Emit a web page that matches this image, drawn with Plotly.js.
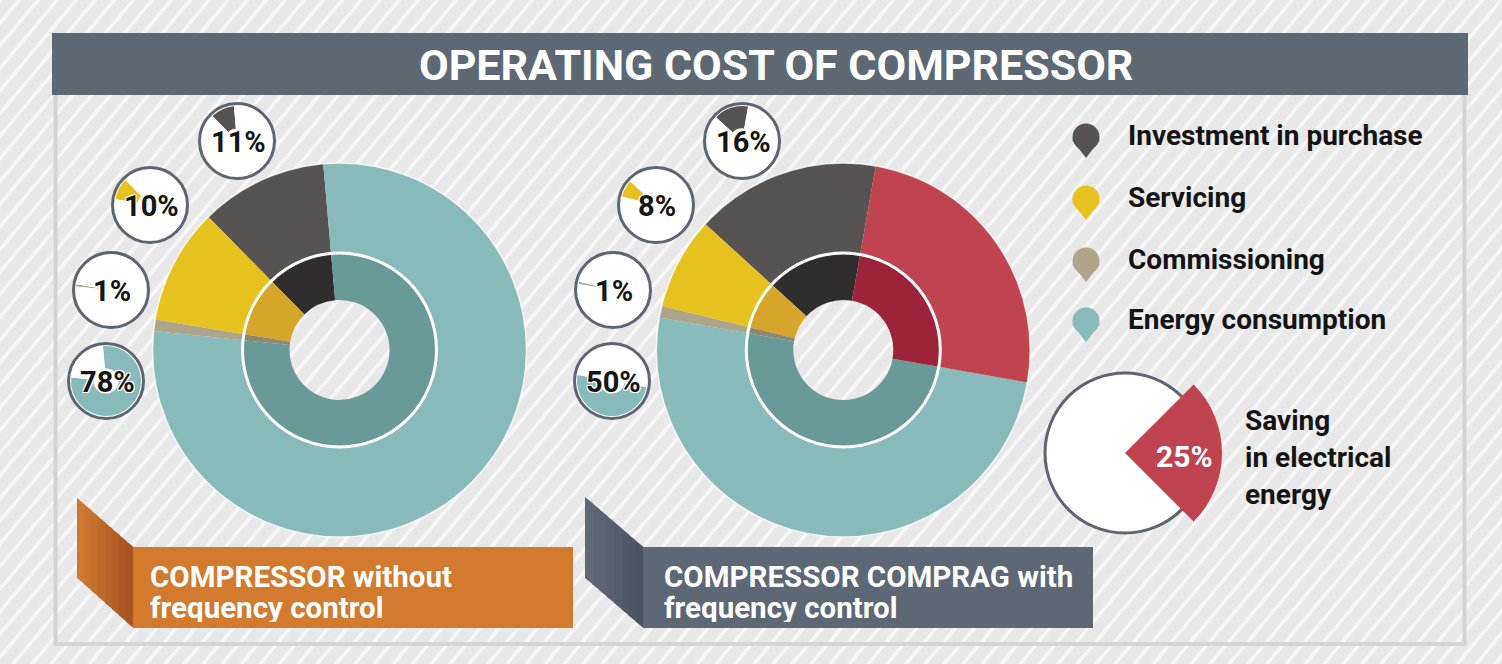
<!DOCTYPE html>
<html><head><meta charset="utf-8">
<script src="https://cdn.plot.ly/plotly-3.0.1.min.js"></script>
<style>html,body{margin:0;padding:0;background:#e8e8e8;} #chart{width:1502px;height:664px;}</style>
</head><body><div id="chart"></div>
<script>
// ---------- data ----------
const chartTitle = 'OPERATING COST OF COMPRESSOR';
const categories = ['Investment in purchase', 'Servicing', 'Commissioning', 'Energy consumption'];
const withoutControl = [11, 10, 1, 78];     // % of operating cost, compressor without frequency control
const withControl = [16, 8, 1, 50];         // % of operating cost, COMPRAG with frequency control
const savingLabel = 'Saving in electrical energy';
const savingShare = 25;                      // % saved
const groupLine1 = ['COMPRESSOR without', 'COMPRESSOR COMPRAG with'];
const groupLine2 = ['frequency control', 'frequency control'];
const savingTextLines = ['Saving', 'in electrical', 'energy'];

// ---------- styles ----------
const W = 1502, H = 664;
const FONT = 'Roboto, "DejaVu Sans", sans-serif';
const outerColors = ['#575352', '#e6c21f', '#ada489', '#87bab8'];
const innerColors = ['#2f2d2d', '#d6a62a', '#8e8772', '#6a9a98'];
const savingOuter = '#c0444f', savingInner = '#9c2339';
const slate = '#5e6873', badgeBorder = '#5d6570';

// "top" = angle (deg, clockwise from 12 o'clock) where the first category's slice ends
const donuts = [
  {cx: 339.5, cy: 350, values: withoutControl, top: -5,
   badges: [[237, 141], [150, 205], [111, 290], [106, 381]]},
  {cx: 843.3, cy: 350, values: withControl, top: 10,
   badges: [[742, 141], [656, 205], [613, 290], [612, 381]]}
];
const R_OUT = 187, R_MID = 97, R_HOLE = 50, R_BADGE = 35, R_BADGE_BG = 37.5;

function dom(cx, cy, r) {
  return {x: [(cx - r) / W, (cx + r) / W], y: [1 - (cy + r) / H, 1 - (cy - r) / H]};
}
function pie(values, labels, colors, cx, cy, r, hole, rotation, direction) {
  return {type: 'pie', values: values, labels: labels, sort: false,
    direction: direction || 'counterclockwise', rotation: rotation, hole: hole,
    domain: dom(cx, cy, r), marker: {colors: colors, line: {width: 0}},
    textinfo: 'none', hoverinfo: 'label+percent', showlegend: false};
}

const traces = [];
const shapes = [];
const annotations = [];

// background stripes
let sp = '';
const ang = 50 * Math.PI / 180, run = (H + 40) / Math.tan(ang);
for (let x0 = -run - 40; x0 < W + 40; x0 += 19) {
  sp += 'M' + x0.toFixed(1) + ',' + (H + 20) + 'L' + (x0 + run).toFixed(1) + ',-20';
}
shapes.push({type: 'path', xref: 'x', yref: 'y', path: sp, line: {color: '#f6f6f6', width: 3.5}, layer: 'below'});

// frame
const frameLine = {color: '#d3d3d3', width: 4};
shapes.push({type: 'line', xref: 'x', yref: 'y', x0: 55.5, x1: 55.5, y0: 94, y1: 644, line: frameLine, layer: 'below'});
shapes.push({type: 'line', xref: 'x', yref: 'y', x0: 1464.5, x1: 1464.5, y0: 94, y1: 644, line: frameLine, layer: 'below'});
shapes.push({type: 'line', xref: 'x', yref: 'y', x0: 53.5, x1: 1466.5, y0: 644, y1: 644, line: frameLine, layer: 'below'});
// title bar
shapes.push({type: 'rect', xref: 'x', yref: 'y', x0: 52, x1: 1468, y0: 33, y1: 95, fillcolor: slate, line: {width: 0}, layer: 'below'});
annotations.push({xref: 'x', yref: 'y', x: 776, y: 65, text: chartTitle, showarrow: false,
  font: {family: FONT, size: 43, color: '#ffffff', weight: 'bold'}});

// banners with folded tab
function mix(c1, c2, t) {
  const a = [1, 3, 5].map(i => parseInt(c1.substr(i, 2), 16));
  const b = [1, 3, 5].map(i => parseInt(c2.substr(i, 2), 16));
  return 'rgb(' + a.map((v, i) => Math.round(v + (b[i] - v) * t)).join(',') + ')';
}
const banners = [
  {fx0: 77, fx1: 133, top0: 498, top1: 547, bot0: 578, bot1: 628, rx1: 573, main: '#d27a2d', f0: '#d07c34', f1: '#a5511f', tx: 148},
  {fx0: 585, fx1: 643, top0: 497, top1: 547, bot0: 578, bot1: 628, rx1: 1093, main: '#5e6774', f0: '#626b79', f1: '#4a5260', tx: 662}
];
banners.forEach((b, bi) => {
  const n = 8;
  for (let i = 0; i < n; i++) {
    const t0 = i / n, t1 = (i + 1) / n;
    const xa = b.fx0 + (b.fx1 - b.fx0) * t0, xb = b.fx0 + (b.fx1 - b.fx0) * t1;
    const ya = b.top0 + (b.top1 - b.top0) * t0, yb = b.top0 + (b.top1 - b.top0) * t1;
    const za = b.bot0 + (b.bot1 - b.bot0) * t0, zb = b.bot0 + (b.bot1 - b.bot0) * t1;
    const col = mix(b.f0, b.f1, (t0 + t1) / 2);
    shapes.push({type: 'path', xref: 'x', yref: 'y', layer: 'below',
      path: 'M' + xa + ',' + ya + 'L' + (xb + 0.6) + ',' + yb + 'L' + (xb + 0.6) + ',' + zb + 'L' + xa + ',' + za + 'Z',
      fillcolor: col, line: {width: 0}});
  }
  shapes.push({type: 'rect', xref: 'x', yref: 'y', x0: b.fx1, x1: b.rx1, y0: b.top1, y1: b.bot1,
    fillcolor: b.main, line: {width: 0}, layer: 'below'});
  annotations.push({xref: 'x', yref: 'y', x: b.tx, y: 576, xanchor: 'left', height: 29, valign: 'middle',
    text: groupLine1[bi], showarrow: false,
    font: {family: FONT, size: 29.5, color: '#ffffff', weight: 'bold'}});
  annotations.push({xref: 'x', yref: 'y', x: b.tx, y: 607, xanchor: 'left', height: 29, valign: 'middle',
    text: groupLine2[bi], showarrow: false,
    font: {family: FONT, size: 29.5, color: '#ffffff', weight: 'bold'}});
});

// donuts
donuts.forEach((d, di) => {
  let vals = d.values.slice(), labs = categories.slice();
  let oc = outerColors.slice(), ic = innerColors.slice();
  if (di === 1) { vals.push(savingShare); labs.push(savingLabel); oc.push(savingOuter); ic.push(savingInner); }
  // counterclockwise: first slice occupies [rotation, rotation + its angle]
  const rot = d.top - 3.6 * vals[0];
  traces.push(pie(vals, labs, oc, d.cx, d.cy, R_OUT, R_MID / R_OUT, rot));
  traces.push(pie(vals, labs, ic, d.cx, d.cy, R_MID, R_HOLE / R_MID, rot));
  shapes.push({type: 'circle', xref: 'x', yref: 'y', x0: d.cx - R_MID, x1: d.cx + R_MID, y0: d.cy - R_MID, y1: d.cy + R_MID,
    line: {color: '#ffffff', width: 3}, layer: 'above'});
  shapes.push({type: 'circle', xref: 'x', yref: 'y', x0: d.cx - R_OUT, x1: d.cx + R_OUT, y0: d.cy - R_OUT, y1: d.cy + R_OUT,
    line: {color: 'rgba(255,255,255,0.8)', width: 1.5}, layer: 'above'});
  // badges: mini pie showing the same slice at the same angle
  let end = d.top;
  d.values.forEach((v, k) => {
    const [bx, by] = d.badges[k];
    const startAng = end - 3.6 * v;
    shapes.push({type: 'circle', xref: 'x', yref: 'y', x0: bx - R_BADGE_BG, x1: bx + R_BADGE_BG, y0: by - R_BADGE_BG, y1: by + R_BADGE_BG,
      fillcolor: '#ffffff', line: {width: 0}, layer: 'below'});
    traces.push(pie([v, 100 - v], [categories[k], ''], [outerColors[k], '#ffffff'], bx, by, R_BADGE, 0.36, startAng));
    shapes.push({type: 'circle', xref: 'x', yref: 'y', x0: bx - R_BADGE_BG, x1: bx + R_BADGE_BG, y0: by - R_BADGE_BG, y1: by + R_BADGE_BG,
      line: {color: badgeBorder, width: 3}, layer: 'above'});
    annotations.push({xref: 'x', yref: 'y', x: bx + 1, y: by + 1, text: v + '%', showarrow: false,
      font: {family: FONT, size: 29, color: '#151515', weight: 'bold',
        shadow: '1px 1px 0 #fff, -1px -1px 0 #fff, 1px -1px 0 #fff, -1px 1px 0 #fff'}});
    end = startAng;
  });
});

// legend pins
const legendX = 1086, legendY = [137, 199, 261, 321];
traces.push({type: 'scatter', mode: 'markers', x: legendY.map(() => legendX), y: legendY,
  marker: {symbol: 'circle', size: 27, color: outerColors, line: {width: 0}}, hoverinfo: 'skip', showlegend: false});
traces.push({type: 'scatter', mode: 'markers', x: legendY.map(() => legendX), y: legendY.map(v => v + 9),
  marker: {symbol: 'triangle-down', size: 24, color: outerColors, line: {width: 0}}, hoverinfo: 'skip', showlegend: false});
categories.forEach((c, i) => {
  annotations.push({xref: 'x', yref: 'y', x: 1126, y: legendY[i] - 2, xanchor: 'left', text: c, showarrow: false,
    font: {family: FONT, size: 28, color: '#141414', weight: 'bold'}});
});

// saving indicator
const sv = {cx: 1125, cy: 453, r: 80, rw: 97};
shapes.push({type: 'circle', xref: 'x', yref: 'y', x0: sv.cx - sv.r, x1: sv.cx + sv.r, y0: sv.cy - sv.r, y1: sv.cy + sv.r,
  fillcolor: '#ffffff', line: {color: badgeBorder, width: 3}, layer: 'below'});
traces.push(pie([savingShare, 100 - savingShare], [savingLabel, ''], [savingOuter, 'rgba(0,0,0,0)'],
  sv.cx, sv.cy, sv.rw, 0, 45, 'clockwise'));
annotations.push({xref: 'x', yref: 'y', x: 1184, y: 456, text: savingShare + '%', showarrow: false,
  font: {family: FONT, size: 30, color: '#ffffff', weight: 'bold'}});
savingTextLines.forEach((t, i) => {
  annotations.push({xref: 'x', yref: 'y', x: 1243, y: 420 + i * 37, xanchor: 'left', height: 34, valign: 'middle',
    text: t, showarrow: false,
    font: {family: FONT, size: 28, color: '#141414', weight: 'bold'}});
});

const layout = {
  width: W, height: H, margin: {l: 0, r: 0, t: 0, b: 0, pad: 0},
  paper_bgcolor: '#e8e8e8', plot_bgcolor: 'rgba(0,0,0,0)',
  xaxis: {range: [0, W], visible: false, fixedrange: true},
  yaxis: {range: [H, 0], visible: false, fixedrange: true},
  showlegend: false, shapes: shapes, annotations: annotations,
  font: {family: FONT}
};
Plotly.newPlot('chart', traces, layout, {displayModeBar: false, responsive: false});
</script>
</body></html>
